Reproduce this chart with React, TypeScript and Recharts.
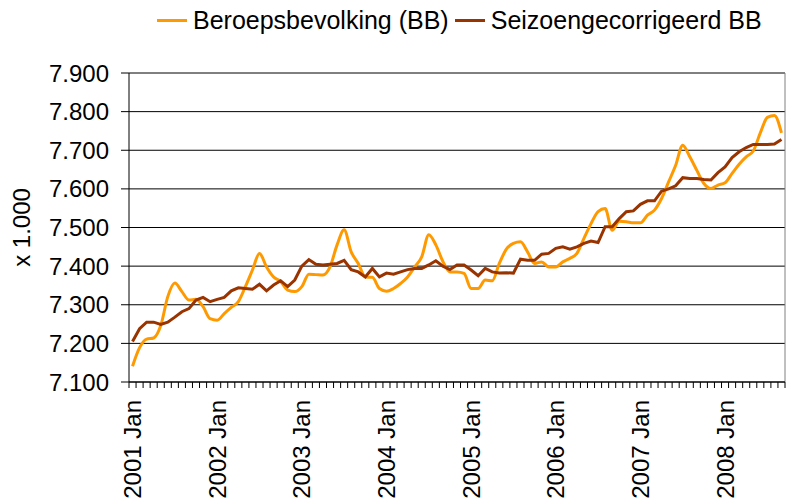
import React from "react";
import {
  CartesianGrid,
  Label,
  Legend,
  Line,
  LineChart,
  ReferenceLine,
  XAxis,
  YAxis,
} from "recharts";

const YEARS = ["2001", "2002", "2003", "2004", "2005", "2006", "2007", "2008"];
const MONTHS = ["Jan", "Feb", "Mrt", "Apr", "Mei", "Jun", "Jul", "Aug", "Sep", "Okt", "Nov", "Dec"];
const LAST_MONTH_COUNT = 93; // 2001 Jan t/m 2008 Sep
const MONTH_LABELS = YEARS.flatMap((y) => MONTHS.map((m) => `${y} ${m}`)).slice(0, LAST_MONTH_COUNT);

// x 1.000
const BEROEPSBEVOLKING = [
  7141, 7189, 7211, 7214, 7246, 7321, 7356, 7334, 7312, 7314, 7295, 7264,
  7260, 7277, 7293, 7308, 7347, 7390, 7433, 7398, 7372, 7360, 7338, 7334,
  7347, 7379, 7378, 7377, 7398, 7455, 7494, 7437, 7407, 7372, 7371, 7342,
  7335, 7342, 7355, 7372, 7398, 7424, 7481, 7455, 7412, 7385, 7385, 7381,
  7342, 7342, 7364, 7362, 7407, 7444, 7459, 7463, 7437, 7407, 7411, 7398,
  7398, 7411, 7420, 7433, 7472, 7510, 7541, 7549, 7493, 7516, 7515, 7512,
  7512, 7532, 7545, 7575, 7618, 7661, 7713, 7683, 7648, 7614, 7601, 7610,
  7616, 7640, 7664, 7683, 7698, 7745, 7785, 7790, 7745,
];

const SEIZOENGECORRIGEERD = [
  7205, 7238, 7255, 7255, 7249, 7255, 7268, 7282, 7290, 7312, 7319, 7308,
  7314, 7319, 7336, 7344, 7342, 7340, 7353, 7336, 7351, 7362, 7347, 7364,
  7400, 7417, 7405, 7403, 7405, 7407, 7415, 7391, 7385, 7372, 7394, 7372,
  7382, 7379, 7385, 7391, 7394, 7394, 7403, 7414, 7400, 7391, 7403, 7403,
  7390, 7375, 7394, 7385, 7382, 7383, 7382, 7418, 7415, 7415, 7431, 7433,
  7446, 7450, 7444, 7450, 7459, 7465, 7461, 7502, 7502, 7523, 7541, 7543,
  7560, 7569, 7569, 7594, 7600, 7608, 7629, 7627, 7627, 7624, 7623, 7642,
  7657, 7681, 7696, 7707, 7715, 7715, 7715, 7716, 7728,
];

const Y_TICKS = [7100, 7200, 7300, 7400, 7500, 7600, 7700, 7800, 7900];

const ORANGE = "#FF9900";
const BROWN = "#993300";
const FONT = "'Liberation Sans', Arial, Helvetica, sans-serif";

const W = 789;
const H = 504;
const MARGIN = { top: 41, right: 4, left: 0, bottom: 0 };
const Y_AXIS_W = 129;
const X_AXIS_H = 122;
const HALF_BAND = (W - MARGIN.left - MARGIN.right - Y_AXIS_W) / MONTH_LABELS.length / 2;

const SERIES = [
  { key: "bb", name: "Beroepsbevolking (BB)", color: ORANGE },
  { key: "sa", name: "Seizoengecorrigeerd BB", color: BROWN },
];

const data = MONTH_LABELS.map((month, idx) => ({
  idx,
  month,
  bb: BEROEPSBEVOLKING[idx],
  sa: SEIZOENGECORRIGEERD[idx],
}));

// tick marks between the months, like a category axis
const X_TICKS = Array.from({ length: MONTH_LABELS.length + 1 }, (_, i) => i - 0.5);

function fmtThousands(v: number) {
  return String(v).replace(/\B(?=(\d{3})+(?!\d))/g, ".");
}

function MonthTick({ x, y, payload }: any) {
  const idx = payload.value + 0.5;
  if (idx % 12 !== 0 || idx >= MONTH_LABELS.length) return <g />;
  return (
    <g transform={`translate(${x + HALF_BAND},${y + 10})`}>
      <text
        transform="rotate(-90)"
        textAnchor="end"
        dominantBaseline="central"
        fontSize={24}
        fontFamily={FONT}
        fill="#000"
      >
        {MONTH_LABELS[idx]}
      </text>
    </g>
  );
}

function LegendContent() {
  return (
    <div
      style={{
        display: "flex",
        alignItems: "center",
        paddingLeft: 157,
        fontFamily: FONT,
        fontSize: 25,
        lineHeight: "28px",
        color: "#000",
        whiteSpace: "nowrap",
      }}
    >
      {SERIES.map((s) => (
        <span key={s.key} style={{ display: "inline-flex", alignItems: "center", marginRight: 6 }}>
          <span style={{ display: "inline-block", width: 30, height: 3, background: s.color, marginRight: 6 }} />
          {s.name}
        </span>
      ))}
    </div>
  );
}

export default function App() {
  return (
    <div style={{ position: "absolute", left: 0, top: 0, width: W, height: H, background: "#fff" }}>
      <LineChart width={W} height={H} data={data} margin={MARGIN} style={{ fontFamily: FONT }}>
        <Legend
          verticalAlign="top"
          align="left"
          content={<LegendContent />}
          wrapperStyle={{ top: 6, left: 0, width: W, height: 32 }}
        />
        <CartesianGrid vertical={false} stroke="#000" strokeWidth={1} />
        <XAxis
          dataKey="idx"
          type="number"
          domain={[-0.5, MONTH_LABELS.length - 0.5]}
          ticks={X_TICKS}
          interval={0}
          tick={<MonthTick />}
          tickSize={6}
          height={X_AXIS_H}
          axisLine={{ stroke: "#000" }}
          tickLine={{ stroke: "#000" }}
          allowDataOverflow
        />
        <YAxis
          domain={[7100, 7900]}
          ticks={Y_TICKS}
          interval={0}
          width={Y_AXIS_W}
          tickSize={8}
          tickMargin={12}
          tickFormatter={fmtThousands}
          tick={{ fontSize: 24, fill: "#000", fontFamily: FONT }}
          axisLine={{ stroke: "#000" }}
          tickLine={{ stroke: "#000" }}
          allowDataOverflow
        >
          <Label
            content={({ viewBox }: any) => (
              <text
                transform={`translate(${viewBox.x + 21},${viewBox.y + viewBox.height / 2}) rotate(-90)`}
                textAnchor="middle"
                dominantBaseline="central"
                fontSize={24}
                fontFamily={FONT}
                fill="#000"
              >
                x 1.000
              </text>
            )}
          />
        </YAxis>
        <ReferenceLine y={7900} stroke="#808080" strokeWidth={1} />
        <ReferenceLine x={MONTH_LABELS.length - 0.5} stroke="#808080" strokeWidth={1} />
        <Line
          dataKey="bb"
          name={SERIES[0].name}
          stroke={ORANGE}
          strokeWidth={3}
          type="monotone"
          dot={false}
          isAnimationActive={false}
        />
        <Line
          dataKey="sa"
          name={SERIES[1].name}
          stroke={BROWN}
          strokeWidth={3}
          type="linear"
          dot={false}
          isAnimationActive={false}
        />
      </LineChart>
    </div>
  );
}
